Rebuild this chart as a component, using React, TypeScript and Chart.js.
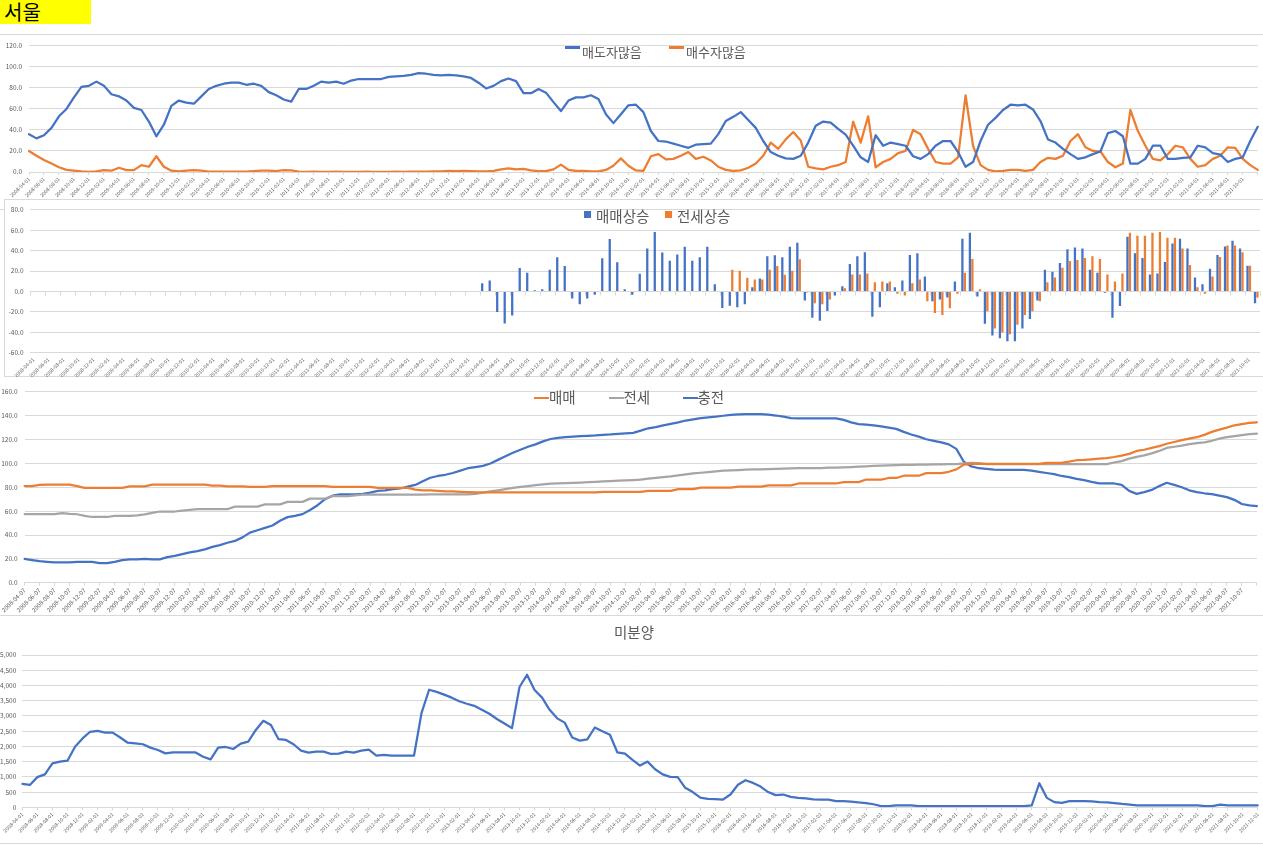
import React, { useEffect, useRef } from 'react';
import { Chart, registerables } from 'chart.js';

Chart.register(...registerables);

const FONT = '"Noto Sans CJK KR", "Noto Sans", sans-serif';
const GRID = '#D9D9D9';
const TICK = '#595959';
const BLUE = '#4472C4';
const ORANGE = '#ED7D31';
const GRAY = '#A5A5A5';

Chart.defaults.font.family = FONT;
Chart.defaults.color = TICK;

// ---- category labels (monthly) ----
function monthSeries(startYear: number, startMonth: number, count: number, day: string): string[] {
  const out: string[] = [];
  for (let k = 0; k < count; k++) {
    const m = startMonth - 1 + k;
    const y = startYear + Math.floor(m / 12);
    const mm = (m % 12) + 1;
    out.push(`${y}-${String(mm).padStart(2, '0')}-${day}`);
  }
  return out;
}

// ---- Chart 1: 매도자많음 / 매수자많음 ----
const sentimentLabels = monthSeries(2008, 4, 165, '01');
const sellersMany = [
  36, 32, 35, 42, 53, 60, 71, 81, 82, 86, 82, 74, 72, 68, 61, 59, 48, 34, 45, 63,
  68, 66, 65, 72, 79, 82, 84, 85, 85, 83, 84, 82, 76, 73, 69, 67, 79, 79, 82, 86,
  85, 86, 84, 87, 88.5, 88.5, 88.5, 88.5, 90.5, 91, 91.5, 92.5,
  94, 93.5, 92.5, 92, 92.5, 92, 91, 89.5, 85, 79.5, 82, 86.5, 89, 86.5, 75, 75,
  79, 75.5, 66.5, 58, 68, 71, 71, 73, 69.5, 55, 46.5, 55, 63.5, 64, 57, 39, 29.5,
  29, 27, 25, 23, 26, 26.5, 27, 36, 48.5, 52.5, 57, 49.5, 42, 29.5, 19, 15.5, 13,
  12.5, 15.5, 28, 44, 48, 47, 41,
  35.5, 25, 14, 9.5, 35, 25, 28, 26.5, 25, 15, 12.5, 17, 25, 29.5, 29.5, 19, 5,
  9.5, 29.5, 45, 51.5, 59, 64, 63.5, 64, 59.5, 48.5, 31, 28, 22, 17, 12.5, 14, 17,
  19.5, 37, 39, 34, 8, 8, 12.5, 25, 25, 12.5, 12.5, 13.5, 14, 25, 23.5, 18, 16.5,
  9.5, 12.5, 14, 29.5, 43,
];
const buyersMany = [
  20, 15.5, 11.5, 8, 4.5, 2, 1.2, 0.5, 0.2, 0.6, 1.8, 1.2, 4, 1.8, 1.8, 6.5, 5, 15,
  5, 1.2, 0.6, 1.2, 1.8, 1.2, 0.3, 0.3, 0.3, 0.3, 0.3, 0.3, 0.9, 1.2, 1.2, 0.9, 1.8,
  1.5, 0.3, 0.2, 0.3, 0.2, 0.2, 0.3, 0.2, 0.2, 0.2, 0.3, 0.2, 0.2, 0.2, 0.3, 0.2, 0.3,
  0.3, 0.3, 0.5, 0.5, 1, 0.8, 1, 0.8, 0.5, 0.5, 1, 2.5, 3.5, 2.5, 3, 1.5, 0.8, 0.8,
  2.5, 7, 2, 1, 1, 0.5, 0.5, 2, 6, 13, 6, 1.5, 1, 15, 17, 12, 12.5, 15.5, 19, 12.5,
  14.5, 11, 5, 2, 1, 1.5, 4, 8, 15.5, 28, 22, 31, 38, 30, 5, 3.5, 2.5, 5, 6.5,
  9.5, 48, 28, 53, 4.5, 9.5, 12.5, 18, 20, 40, 36, 22, 9.5, 8, 8, 14, 73, 25, 6.5,
  2, 0.6, 1, 2, 2, 1, 2, 9.5, 13.5, 12.5, 15.5, 29.5, 36, 23.5, 20, 19.5, 9.5, 4.5,
  8, 59, 39, 25, 12.5, 11, 17, 25, 23.5, 12.5, 5, 6.5, 12.5, 15.5, 23.5, 23, 12.5,
  6.5, 2,
];

// ---- Chart 2: 매매상승 / 전세상승 ----
const changeLabels = monthSeries(2008, 4, 164, '01');
const saleRise: (number | null)[] = [
  null, null, null, null, null, null, null, null, null, null,
  null, null, null, null, null, null, null, null, null, null,
  null, null, null, null, null, null, null, null, null, null,
  null, null, null, null, null, null, null, null, null, null,
  null, null, null, null, null, null, null, null, null, null,
  null, null, null, null, null, null, null, null, null, null,
  7.9, 10.7, -20.2, -31.6, -23.7, 23, 18.3, 1.2, 2.2, 21.2, 33.5, 25, -7, -12.7,
  -7, -3.2, 32.5, 51.5, 28.7, 2.2, -3.2, 17.4, 42, 58.4, 38.2, 30, 36.3, 43.9, 30,
  33.5, 43.9, 6.9, -16.4, -14.2, -15.5, -12.7, 4.1, 12.6, 34.4, 35.4, 33.5, 43.9,
  47.7, -8.9, -25.9, -28.8, -19.3, -4.1,
  5.1, 27, 34.6, 38.4, -25, -15.6, 7.9, 4.1, 10.8, 35.6, 37.5, 14.6, -9.8, -7.9, -6,
  9.8, 51.7, 57.5, -5.1, -31.7, -43.2, -46, -48.9, -48.9, -36.5, -27, -8.9, 21.3,
  19.4, 27.9, 41.3, 43.2, 42.2, 21.3, 18.4, -1.3, -26, -14.3, 53.7, 37.5, 32.7, 16.5,
  17.5, 28.9, 47, 51.7, 42.2, 13.7, 7, 22.2, 35.6, 44.1, 49.8, 42.2, 25.1, -11.7,
];
const jeonseRise: (number | null)[] = [
  null, null, null, null, null, null, null, null, null, null,
  null, null, null, null, null, null, null, null, null, null,
  null, null, null, null, null, null, null, null, null, null,
  null, null, null, null, null, null, null, null, null, null,
  null, null, null, null, null, null, null, null, null, null,
  null, null, null, null, null, null, null, null, null, null,
  null, null, null, null, null, null, null, null, null, null,
  null, null, null, null, null, null, null, null, null, null,
  null, null, null, null, null, null, null, null, null, null,
  null, null, null,
  21.2, 20.2, 13.5, 11.7, 11.7, 21.2, 25, 16.4, 20.2, 31.6, -1, -11.7, -12.7, -7.9, null,
  3.2, 16.5, 16.5, 17.5, 8.9, 9.8, 9.8, -2.2, -4.1, 7.9, 11.7, -9.8, -21.3, -23.2,
  -16.5, -2.2, 18.4, 31.7, 2.2, -19.4, -36.5, -40.3, -42.2, -32.7, -23.2, -19.4, -9.8,
  8.9, 13.7, 23.2, 29.8, 30.8, 32.7, 34.6, 31.7, 16.5, 9.8, 17.5, 57.5, 54.6, 54.6,
  57.5, 58.4, 52.7, 52.7, 42.2, 26, 4.1, -2.2, 14.6, 33.7, 45.1, 45.1, 38.4, 25.1, -6,
];

// ---- Chart 3: 매매 / 전세 / 충전 ----
const indexLabels = monthSeries(2008, 4, 165, '07');
const saleIndex = [
  81, 81, 82, 82.2, 82.2, 82.2, 82.2, 81, 79.5, 79.5, 79.5, 79.5, 79.5, 79.5, 80.8,
  80.8, 80.8, 82.2, 82.2, 82.2, 82.2, 82.2, 82.2, 82.2, 82.2, 81.4, 81.4, 80.8, 80.8,
  80.8, 80.3, 80.3, 80.3, 81, 81, 81, 81, 81, 81, 81, 81, 80.3, 80.3, 80.3, 80.3,
  80.3, 80.3, 79.5, 79.5, 79.5, 79.5, 79.5, 78,
  77.5, 77.5, 77, 76.5, 76.5, 76.2, 76, 75.7, 75.7, 75.7, 75.7, 75.7, 75.7, 75.7,
  75.7, 75.7, 75.7, 75.7, 75.7, 75.7, 75.7, 75.7, 75.7, 75.7, 76.2, 76.2, 76.2, 76.2,
  76.2, 76.2, 77, 77, 77, 77, 78.4, 78.4, 78.4, 79.7, 79.7, 79.7, 79.7, 79.7, 80.5,
  80.5, 80.5, 80.5, 81.6, 81.6, 81.6, 81.6, 83.2, 83.2, 83.2, 83.2, 83.2, 83.2, 84.3,
  84.3, 84.3, 86.5, 86.5, 86.5, 87.8, 87.8, 89.7, 89.7, 89.7, 91.9, 91.9, 91.9, 93,
  95, 99, 99.7, 99.7, 99.7, 99.7, 99.7, 99.7, 99.7, 99.7, 99.7, 99.7, 100.5, 100.5,
  100.5, 101.5, 102.7, 103, 103.5, 104, 104.5, 105.4, 106.5, 108, 110.5, 111.5, 113,
  114.5, 116.5, 118, 119.5, 120.8, 122, 124, 126.5, 128.3, 130, 132, 133, 134, 134.5,
];
const jeonseIndex = [
  57.6, 57.6, 57.6, 57.6, 57.6, 58.4, 57.8, 57.4, 56, 55.1, 55.1, 55.1, 56, 56, 56,
  56.5, 57.3, 58.5, 59.7, 59.7, 59.7, 60.5, 61, 61.6, 61.6, 61.6, 61.6, 61.6, 63.8,
  63.8, 63.8, 63.8, 65.7, 65.7, 65.7, 67.8, 67.8, 67.8, 70.5, 70.5, 70.5, 72.7, 72.7,
  72.7, 73.2, 73.8, 73.8, 73.8, 73.8, 73.8, 73.8, 73.8, 73.8,
  73.8, 74, 74, 74, 74, 74, 74, 74.5, 75.5, 76.5, 77.5, 78.5, 79.5, 80.3, 81, 81.8,
  82.4, 83, 83.3, 83.6, 83.8, 84, 84.3, 84.6, 84.9, 85.2, 85.5, 85.8, 86.1, 86.5,
  87.2, 88, 88.6, 89.2, 90, 90.8, 91.6, 92.2, 92.8, 93.4, 93.9, 94.2, 94.5, 94.8, 95,
  95.1, 95.3, 95.5, 95.7, 95.9, 96.1, 96.1, 96.1, 96.1, 96.4, 96.5, 96.8, 97, 97.3,
  97.6, 97.9, 98.1, 98.4, 98.6, 98.8, 98.9, 99, 99.1, 99.2, 99.3, 99.4, 99.5, 100,
  100.5, 100.3, 99.5, 99.5, 99.5, 99.5, 99.5, 99.5, 99.5, 99.5, 99.5, 99.5, 99.5,
  99.5, 99.5, 99.5, 99.5, 99.5, 99.5, 100.8, 102, 104, 105.5, 106.8, 108.5, 110.5,
  113, 114, 115, 116.2, 117, 117.6, 119, 120.8, 122, 123, 123.8, 124.5, 125,
];
const gapIndex = [
  20, 19, 18, 17.5, 17, 17, 17, 17.5, 17.5, 17.5, 16.5, 16.5, 17.5, 19, 19.5, 19.5,
  20, 19.5, 19.5, 21.5, 22.5, 24, 25.5, 26.5, 28, 30, 31.5, 33.5, 35, 38, 42, 44, 46,
  48, 52, 55, 56, 57.5, 61, 65, 70, 73, 74, 74, 74, 74.5, 75.5, 77, 77.5, 78.5, 79,
  80.5, 82,
  85, 88, 89.5, 90.5, 92, 94, 96, 97, 98, 100, 103, 106, 109, 111.5, 114, 116, 118.5,
  120.5, 121.5, 122, 122.5, 123, 123.2, 123.5, 124, 124.3, 124.8, 125.3, 125.7, 127.5,
  129.5, 130.5, 132, 133.2, 134.5, 136, 137, 138, 138.7, 139.2, 140, 140.7, 141.1,
  141.3, 141.4, 141.4, 141, 140.2, 139.2, 138, 137.8, 137.8, 137.8, 137.8, 137.8,
  137.8, 136.5, 134.5, 133, 132.5, 132, 131, 130, 129, 126.5, 124.3, 122.5, 120.3,
  119, 117.6, 116, 112.2, 101.4, 97.5, 96, 95.5, 94.8, 94.6, 94.6, 94.6, 94.6, 94, 93,
  92, 91, 89.5, 88.5, 87, 86, 84.5, 83.3, 83.2, 83.2, 82, 77, 74.5, 76, 77.8, 81,
  83.8, 82, 80, 77.5, 76, 75, 74.3, 73, 71.8, 69.5, 66, 64.8, 64.3,
];

// ---- Chart 4: 미분양 ----
const unsoldLabels = monthSeries(2008, 4, 165, '01');
const unsold = [
  770, 735, 990, 1080, 1440, 1500, 1530, 1990, 2260, 2480, 2510, 2450, 2450, 2290,
  2120, 2100, 2070, 1960, 1880, 1770, 1800, 1800, 1800, 1800, 1660, 1575, 1960, 1980,
  1915, 2090, 2155, 2540, 2840, 2700, 2240, 2210, 2070, 1860, 1795, 1830, 1830, 1750,
  1760, 1830, 1795, 1860, 1895, 1700, 1720, 1700, 1700, 1700, 1700, 3100, 3860, 3790,
  3700, 3600, 3480, 3400, 3330, 3200, 3070, 2900, 2750, 2600, 3950, 4350, 3850, 3600,
  3200, 2920, 2780, 2290, 2190, 2230, 2620, 2500, 2380, 1800, 1760, 1560, 1370, 1500,
  1250, 1080, 1000, 990, 640, 500, 320, 280, 270, 250, 420, 740, 890, 800, 680, 500,
  400, 420, 340, 310, 290, 260, 250, 250, 200, 200, 190, 160, 140, 100, 40, 35, 66,
  66, 66, 40, 40, 40, 40, 40, 40, 40, 40, 40, 40, 40, 40, 40, 40, 40, 60, 790, 310,
  170, 145, 200, 200, 200, 195, 170, 165, 140, 110, 90, 66, 66, 66, 66, 66, 66, 66,
  66, 66, 35, 40, 90, 66, 66, 66, 66, 66,
];

// ---- helpers ----
function xAxis(labels: string[], height: number, lastShown: number, size: number, offset: boolean, showTicks: boolean) {
  return {
    type: 'category' as const,
    offset,
    afterFit: (s: any) => { s.height = height; },
    grid: {
      display: showTicks,
      drawOnChartArea: false,
      drawTicks: true,
      tickLength: 3,
      color: (c: any) => (c.index % 2 === 0 ? GRID : 'rgba(0,0,0,0)'),
    },
    border: { display: showTicks, color: GRID },
    ticks: {
      autoSkip: false,
      minRotation: 45,
      maxRotation: 45,
      padding: 1,
      color: TICK,
      font: { size, family: FONT },
      callback: (_v: any, i: number) => (i % 2 === 0 && i <= lastShown ? labels[i] : ''),
    },
  };
}

function yAxis(min: number, max: number, step: number, width: number, pad: number, fmt: (v: number) => string) {
  return {
    min,
    max,
    afterFit: (s: any) => { s.width = width; },
    grid: { color: GRID, lineWidth: 1, drawTicks: false },
    border: { display: false },
    ticks: { stepSize: step, padding: pad, color: TICK, font: { size: 6.5, family: FONT }, callback: (v: any) => fmt(Number(v)) },
  };
}

const basePlugins = { legend: { display: false }, title: { display: false }, tooltip: { enabled: false } };

function lineDs(label: string, data: number[], color: string) {
  return { label, data, borderColor: color, backgroundColor: color, borderWidth: 2.25, pointRadius: 0, tension: 0, borderJoinStyle: 'round' as const, borderCapStyle: 'round' as const };
}

const zeroTicks = {
  id: 'zeroTicks',
  afterDatasetsDraw(chart: any) {
    const xs = chart.scales.x;
    const ys = chart.scales.y;
    const y0 = Math.round(ys.getPixelForValue(0)) + 0.5;
    const n = changeLabels.length;
    const ctx = chart.ctx;
    ctx.save();
    ctx.strokeStyle = GRID;
    ctx.lineWidth = 1;
    ctx.beginPath();
    for (let i = 0; i <= n; i += 2) {
      const px = Math.round(xs.left + (i * xs.width) / n) + 0.5;
      ctx.moveTo(px, y0);
      ctx.lineTo(px, y0 + 4);
    }
    ctx.stroke();
    ctx.restore();
  },
};

function ChartBox({ left, top, width, height, make }: { left: number; top: number; width: number; height: number; make: () => any }) {
  const ref = useRef<HTMLCanvasElement>(null);
  useEffect(() => {
    const chart = new Chart(ref.current as HTMLCanvasElement, make());
    return () => chart.destroy();
  }, []);
  return <canvas ref={ref} width={width} height={height} style={{ position: 'absolute', left, top, width, height }} />;
}

const makeSentiment = () => ({
  type: 'line',
  data: { labels: sentimentLabels, datasets: [lineDs('매도자많음', sellersMany, BLUE), lineDs('매수자많음', buyersMany, ORANGE)] },
  options: {
    responsive: false, animation: false, events: [],
    layout: { padding: { top: 7, right: 1, left: 0, bottom: 0 } },
    plugins: basePlugins,
    scales: {
      x: xAxis(sentimentLabels, 26, 162, 5, false, true),
      y: yAxis(0, 120, 20, 29, 7, (v) => v.toFixed(1)),
    },
  },
});

const makeChange = () => ({
  type: 'bar',
  data: {
    labels: changeLabels,
    datasets: [
      { label: '매매상승', data: saleRise, backgroundColor: BLUE, borderWidth: 0, categoryPercentage: 0.66, barPercentage: 0.92 },
      { label: '전세상승', data: jeonseRise, backgroundColor: ORANGE, borderWidth: 0, categoryPercentage: 0.66, barPercentage: 0.92 },
    ],
  },
  options: {
    responsive: false, animation: false, events: [],
    layout: { padding: { top: 5, right: 3, left: 0, bottom: 0 } },
    plugins: basePlugins,
    scales: {
      x: xAxis(changeLabels, 24.5, 162, 5, true, false),
      y: yAxis(-60, 80, 20, 24.5, 6, (v) => v.toFixed(1)),
    },
  },
  plugins: [zeroTicks],
});

const makeIndex = () => ({
  type: 'line',
  data: {
    labels: indexLabels,
    datasets: [lineDs('매매', saleIndex, ORANGE), lineDs('전세', jeonseIndex, GRAY), lineDs('충전', gapIndex, BLUE)],
  },
  options: {
    responsive: false, animation: false, events: [],
    layout: { padding: { top: 5, right: 2, left: 0, bottom: 0 } },
    plugins: basePlugins,
    scales: {
      x: xAxis(indexLabels, 31.3, 162, 6, false, true),
      y: yAxis(0, 160, 20, 24.5, 7, (v) => v.toFixed(1)),
    },
  },
});

const makeUnsold = () => ({
  type: 'line',
  data: { labels: unsoldLabels, datasets: [lineDs('미분양', unsold, BLUE)] },
  options: {
    responsive: false, animation: false, events: [],
    layout: { padding: { top: 39, right: 2, left: 0, bottom: 0 } },
    plugins: basePlugins,
    scales: {
      x: xAxis(unsoldLabels, 35.7, 164, 5, false, true),
      y: yAxis(0, 5000, 500, 22.3, 6, (v) => v.toLocaleString('en-US')),
    },
  },
});

const legendText: React.CSSProperties = { position: 'absolute', fontFamily: FONT, color: TICK, lineHeight: 1, whiteSpace: 'nowrap' };

function LineKey({ left, top, color }: { left: number; top: number; color: string }) {
  return <div style={{ position: 'absolute', left, top, width: 15, height: 2.5, background: color }} />;
}
function SquareKey({ left, top, color }: { left: number; top: number; color: string }) {
  return <div style={{ position: 'absolute', left, top, width: 7, height: 7, background: color }} />;
}
function HLine({ top, left = 0, width = 1263 }: { top: number; left?: number; width?: number }) {
  return <div style={{ position: 'absolute', left, top, width, height: 1, background: GRID }} />;
}

export default function App() {
  return (
    <div style={{ position: 'absolute', left: 0, top: 0, width: 1263, height: 845, background: '#fff', overflow: 'hidden' }}>
      <div style={{ position: 'absolute', left: 0, top: 0, width: 91, height: 24, background: '#FFFF00' }} />
      <div style={{ ...legendText, left: 4, top: 2, fontSize: 20, color: '#000' }}>서울</div>

      <HLine top={34} />
      <HLine top={209} left={0} width={4} />
      <div style={{ position: 'absolute', left: 4, top: 199, width: 1262, height: 178, border: `1px solid ${GRID}`, boxSizing: 'border-box' }} />
      <HLine top={615} />
      <HLine top={843} />

      <ChartBox left={0} top={35} width={1263} height={163} make={makeSentiment} />
      <ChartBox left={5} top={200} width={1258} height={177} make={makeChange} />
      <ChartBox left={0} top={381} width={1263} height={233} make={makeIndex} />
      <ChartBox left={0} top={616} width={1263} height={227} make={makeUnsold} />

      <LineKey left={565} top={46} color={BLUE} />
      <div style={{ ...legendText, left: 582, top: 45, fontSize: 13 }}>매도자많음</div>
      <LineKey left={669} top={46} color={ORANGE} />
      <div style={{ ...legendText, left: 686, top: 45, fontSize: 13 }}>매수자많음</div>

      <SquareKey left={584} top={211} color={BLUE} />
      <div style={{ ...legendText, left: 596, top: 209, fontSize: 14.5 }}>매매상승</div>
      <SquareKey left={665} top={211} color={ORANGE} />
      <div style={{ ...legendText, left: 677, top: 209, fontSize: 14.5 }}>전세상승</div>

      <LineKey left={534} top={396.5} color={ORANGE} />
      <div style={{ ...legendText, left: 549, top: 390, fontSize: 14.5 }}>매매</div>
      <LineKey left={608.5} top={396.5} color={GRAY} />
      <div style={{ ...legendText, left: 623.5, top: 390, fontSize: 14.5 }}>전세</div>
      <LineKey left={683} top={396.5} color={BLUE} />
      <div style={{ ...legendText, left: 697.5, top: 390, fontSize: 14.5 }}>충전</div>

      <div style={{ ...legendText, left: 614, top: 625, fontSize: 14.5 }}>미분양</div>
    </div>
  );
}
